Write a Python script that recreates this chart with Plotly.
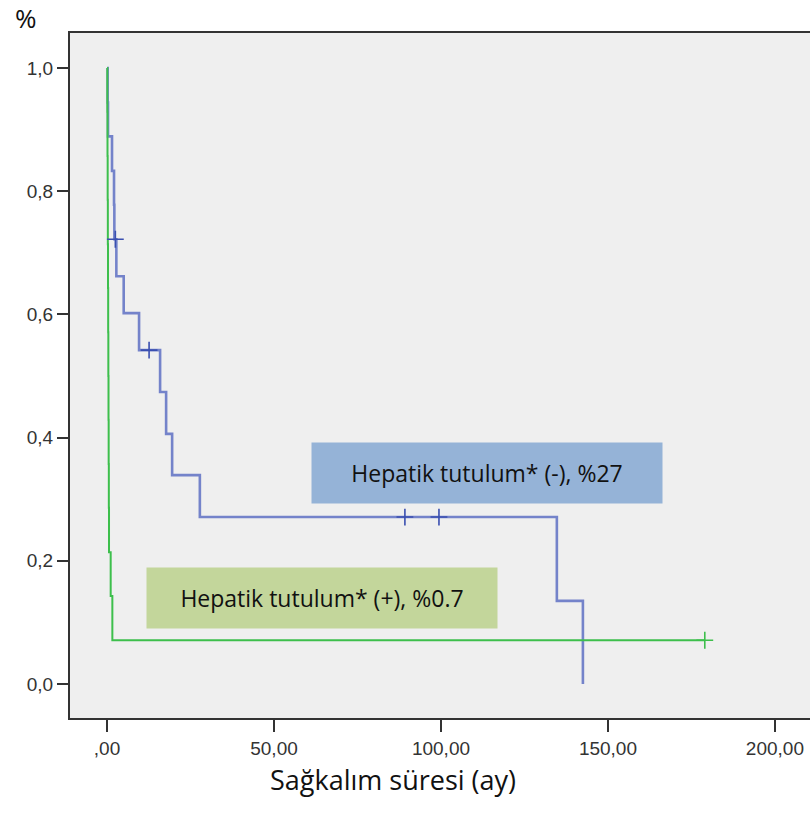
import plotly.graph_objects as go

# Kaplan-Meier step estimates, hepatic involvement negative
neg_time = [0, 0.2, 0.3, 1.5, 2.1, 2.2, 2.8, 5.0, 9.6, 15.9, 17.7, 19.5, 27.8, 134.7, 142.5]
neg_surv = [1.0, 0.944, 0.889, 0.833, 0.778, 0.722, 0.662, 0.602, 0.542, 0.474, 0.406, 0.339, 0.271, 0.135, 0.0]
neg_cens_time = [2.5, 12.6, 89.2, 99.4]
neg_cens_surv = [0.722, 0.542, 0.271, 0.271]

# Kaplan-Meier step estimates, hepatic involvement positive
pos_time = [0, 0.1, 0.15, 0.2, 0.25, 0.3, 0.35, 0.4, 0.45, 0.5, 0.55, 0.6, 1.1, 1.6, 179.0]
pos_surv = [1.0, 0.929, 0.857, 0.786, 0.714, 0.643, 0.571, 0.5, 0.429, 0.357, 0.286, 0.214, 0.143, 0.071, 0.071]
pos_cens_time = [179.0]
pos_cens_surv = [0.071]

x_ticks = [0, 50, 100, 150, 200]
x_tick_text = [",00", "50,00", "100,00", "150,00", "200,00"]
y_ticks = [0.0, 0.2, 0.4, 0.6, 0.8, 1.0]
y_tick_text = ["0,0", "0,2", "0,4", "0,6", "0,8", "1,0"]

label_neg = "Hepatik tutulum* (-), %27"
label_pos = "Hepatik tutulum* (+), %0.7"
x_title = "Sağkalım süresi (ay)"
y_title = "%"

blue = "rgba(75,95,190,0.75)"
green = "#3dbf4c"

fig = go.Figure()
fig.add_trace(go.Scatter(x=neg_time, y=neg_surv, mode="lines", line_shape="hv",
                         line=dict(color=blue, width=2.6), showlegend=False))
fig.add_trace(go.Scatter(x=pos_time, y=pos_surv, mode="lines", line_shape="hv",
                         line=dict(color=green, width=2), showlegend=False))
fig.add_trace(go.Scatter(x=neg_cens_time, y=neg_cens_surv, mode="markers",
                         marker=dict(symbol="cross-thin", size=12,
                                     line=dict(color="#3a4fb0", width=1.6)),
                         showlegend=False))
fig.add_trace(go.Scatter(x=pos_cens_time, y=pos_cens_surv, mode="markers",
                         marker=dict(symbol="cross-thin", size=12,
                                     line=dict(color=green, width=1.6)),
                         showlegend=False))

text_font = dict(family="Open Sans", size=23, color="#111111")
fig.add_annotation(x=113.8, y=0.3425, xref="x", yref="y", text=label_neg,
                   showarrow=False, bgcolor="#95b3d7", width=350, height=60,
                   borderpad=0, font=text_font, align="center", valign="middle")
fig.add_annotation(x=64.4, y=0.1396, xref="x", yref="y", text=label_pos,
                   showarrow=False, bgcolor="#c3d69b", width=350, height=60,
                   borderpad=0, font=text_font, align="center", valign="middle")

fig.add_annotation(x=-0.0595, y=1.022, xref="paper", yref="paper", text=y_title,
                   showarrow=False, font=dict(family="Open Sans", size=26, color="#111111"),
                   xanchor="center", yanchor="middle")
fig.add_annotation(x=0.4365, y=-0.0905, xref="paper", yref="paper", text=x_title,
                   showarrow=False, font=dict(family="Open Sans", size=27, color="#111111"),
                   xanchor="center", yanchor="middle")

tick_font = dict(family="Liberation Sans", size=19, color="#333333")
fig.update_xaxes(range=[-11.08, 210.5], tickvals=x_ticks, ticktext=x_tick_text,
                 showgrid=False, zeroline=False, showline=True, linecolor="#333333",
                 linewidth=2, mirror=True, ticks="outside", ticklen=12, tickwidth=2,
                 tickcolor="#333333", tickfont=tick_font)
fig.update_yaxes(range=[-0.0552, 1.0568], tickvals=y_ticks, ticktext=y_tick_text,
                 showgrid=False, zeroline=False, showline=True, linecolor="#333333",
                 linewidth=2, mirror=False, ticks="outside", ticklen=11, tickwidth=2,
                 tickcolor="#333333", tickfont=tick_font)

fig.update_layout(width=810, height=832, margin=dict(l=70, r=0, t=33, b=114),
                  plot_bgcolor="#efefef", paper_bgcolor="white")

fig.write_html("out.html")
